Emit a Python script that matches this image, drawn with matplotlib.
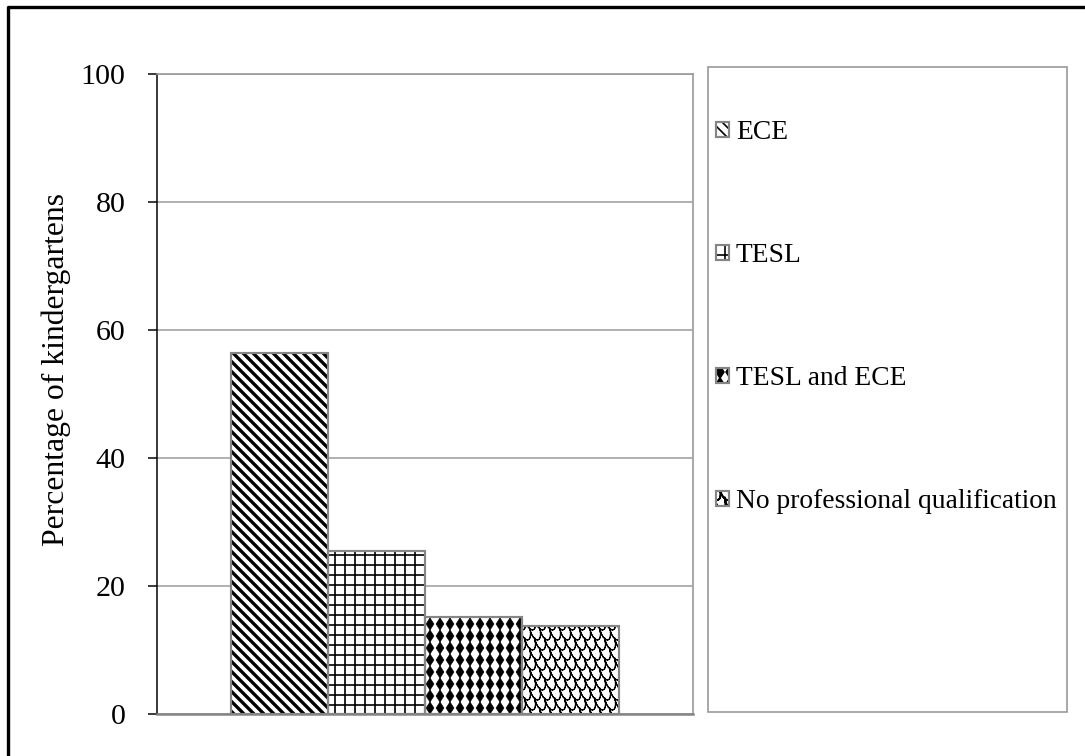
import numpy as np
import matplotlib
matplotlib.use("Agg")
import matplotlib.pyplot as plt
import matplotlib.hatch as mhatch
from matplotlib.path import Path
from matplotlib.patches import Rectangle
from matplotlib.lines import Line2D

# ---------------- data ----------------
categories = ["Kindergartens"]
series_names = ["ECE", "TESL", "TESL and ECE", "No professional qualification"]
ece = [56.4]
tesl = [25.4]
tesl_ece = [15.2]
no_qual = [13.8]
series_values = [ece, tesl, tesl_ece, no_qual]
y_ticks = [0, 20, 40, 60, 80, 100]
y_label = "Percentage of kindergartens"


# ---------------- custom hatch patterns ----------------
class DiamondHatch(mhatch.HatchPatternBase):
    """Aligned grid of solid diamonds, triggered by 'O'."""
    def __init__(self, hatch, density):
        self.on = 'O' in hatch
        self.ncol, self.nrow = 12, 10
        self.num_vertices = (self.ncol + 1) * (self.nrow + 1) * 5 if self.on else 0

    def set_vertices_and_codes(self, vertices, codes):
        hw = 0.5 / self.ncol * 0.78
        hh = 0.5 / self.nrow * 1.0
        shape = np.array([[0, hh], [hw, 0], [0, -hh], [-hw, 0], [0, hh]])
        scodes = [Path.MOVETO, Path.LINETO, Path.LINETO, Path.LINETO, Path.CLOSEPOLY]
        vp, cp = [], []
        for r in range(self.nrow + 1):
            for c in range(self.ncol + 1):
                vp.append(shape + [c / self.ncol, r / self.nrow])
                cp.append(scodes)
        vertices[:] = np.concatenate(vp)
        codes[:] = np.concatenate(cp)


class ScaleHatch(mhatch.HatchPatternBase):
    """Fish-scale pattern, triggered by 'o'."""
    def __init__(self, hatch, density):
        self.on = 'o' in hatch
        self.n = 12
        self.k = 9
        self.ncols = self.n + 3
        self.nrows = self.n + 2
        self.num_vertices = (self.ncols * self.nrows * 2 * self.k) if self.on else 0

    def set_vertices_and_codes(self, vertices, codes):
        n, k = self.n, self.k
        w = 1.0 / n
        h = 1.0 / n
        t = np.linspace(np.pi, 2 * np.pi, k)
        arc = np.column_stack([0.5 * w * np.cos(t), h * np.sin(t) * 1.0])
        # skew a little so the scales lean like the reference
        arc[:, 0] += -0.25 * w * (np.sin(t))
        shape = np.concatenate([arc, arc[::-1]])
        scodes = [Path.MOVETO] + [Path.LINETO] * (2 * k - 1)
        vp, cp = [], []
        for r in range(self.nrows):
            y = r * h
            shift = (r % 2) * w / 2
            for c in range(-1, self.ncols - 1):
                x = c * w + shift
                vp.append(shape + [x, y])
                cp.append(scodes)
        vertices[:] = np.concatenate(vp)
        codes[:] = np.concatenate(cp)


mhatch._hatch_types = [t for t in mhatch._hatch_types
                       if t.__name__ not in ("LargeCircles", "SmallCircles")]
mhatch._hatch_types += [DiamondHatch, ScaleHatch]

# ---------------- style ----------------
DPI = 120
plt.rcParams['font.family'] = ['Liberation Serif', 'DejaVu Serif']
GRAY = '#999999'
EDGE = '#858585'

fig = plt.figure(figsize=(1085 / DPI, 756 / DPI), dpi=DPI)
W, H = 1085, 756
ax = fig.add_axes([157 / W, 1 - 714 / H, (693 - 157) / W, (714 - 74) / H])

hatches = ['\\\\\\\\', '++', 'O', 'o']
hatch_lw = [2.0, 1.0, 0.4, 0.7]
bar_w = 97 / 536
x = np.arange(len(categories)) + 0.5
n = len(series_names)

handles = []
for i, (name, vals) in enumerate(zip(series_names, series_values)):
    pos = x + (i - (n - 1) / 2) * bar_w
    with plt.rc_context({'hatch.linewidth': hatch_lw[i]}):
        hb = ax.bar(pos, vals, width=bar_w, color='white', edgecolor='black',
                    linewidth=0, hatch=hatches[i], zorder=3)
        for p in hb:
            if hasattr(p, 'set_hatch_linewidth'):
                p.set_hatch_linewidth(hatch_lw[i])
    ob = ax.bar(pos, vals, width=bar_w, fill=False, edgecolor=EDGE,
                linewidth=1.3, zorder=4)
    handles.append((hb[0], ob[0]))

ax.set_xlim(0, 1)
ax.set_ylim(0, 100)
ax.set_yticks(y_ticks)
ax.set_xticks([])
ax.tick_params(axis='y', direction='out', length=5.4, width=0.9, color='black',
               pad=13.5, labelsize=18)
ax.yaxis.grid(True, color=GRAY, linewidth=0.9, zorder=0)
ax.set_axisbelow(True)
for s in ['top', 'right']:
    ax.spines[s].set_color(GRAY)
    ax.spines[s].set_linewidth(1.0)
ax.spines['bottom'].set_color(EDGE)
ax.spines['bottom'].set_linewidth(1.5)
ax.spines['left'].set_color('black')
ax.spines['left'].set_linewidth(0.9)

ax.set_ylabel(y_label, fontsize=19)
ax.yaxis.label.set_va('center')
ax.yaxis.set_label_coords((56 - 157) / 536, (714 - 370) / 640)

# legend frame
fig.add_artist(Rectangle((708 / W, 1 - 712 / H), 359 / W, 645 / H,
                         transform=fig.transFigure, fill=False,
                         edgecolor=GRAY, linewidth=1.0))

leg_fs = 16.5
fs_px = leg_fs * DPI / 72
fig.legend(handles, series_names, loc='upper left',
           bbox_to_anchor=(716 / W, 1 - 120 / H), frameon=False,
           fontsize=leg_fs, handlelength=13 / fs_px, handleheight=13 / fs_px,
           handletextpad=7 / fs_px, borderpad=0, borderaxespad=0,
           labelspacing=(128 - 30) / fs_px)

# outer black border (left and top)
fig.add_artist(Line2D([8 / W, 8 / W, 1.0], [0.0, 1 - 7 / H, 1 - 7 / H],
                      transform=fig.transFigure, color='black', linewidth=2.0))

fig.savefig('out.png', dpi=DPI)
